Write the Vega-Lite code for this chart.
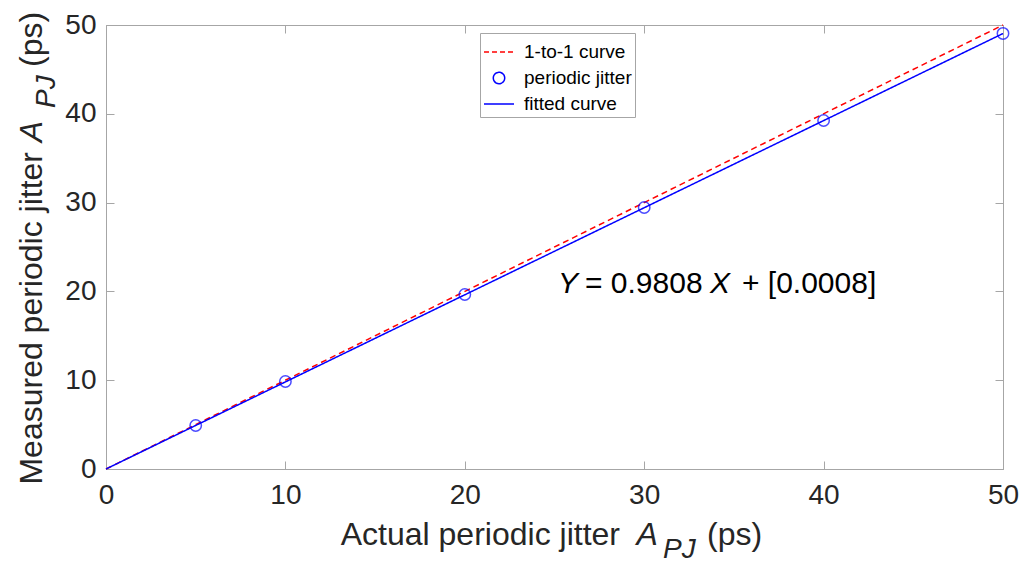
{
  "$schema": "https://vega.github.io/schema/vega-lite/v6.json",
  "width": 897,
  "height": 444,
  "autosize": "none",
  "padding": {"left": 106, "top": 25, "right": 23, "bottom": 98},
  "background": "white",
  "config": {
    "view": {"stroke": "#a6a6a6", "strokeWidth": 1},
    "font": "Liberation Sans",
    "text": {"font": "Liberation Sans", "color": "#000000"}
  },
  "datasets": {
    "lines": [
      {"series": "1-to-1 curve", "x": 0, "y": 0},
      {"series": "1-to-1 curve", "x": 50, "y": 50},
      {"series": "fitted curve", "x": 0, "y": 0.0008},
      {"series": "fitted curve", "x": 50, "y": 49.04}
    ],
    "points": [
      {"series": "periodic jitter", "x": 5, "y": 4.9},
      {"series": "periodic jitter", "x": 10, "y": 9.85},
      {"series": "periodic jitter", "x": 20, "y": 19.65},
      {"series": "periodic jitter", "x": 30, "y": 29.45},
      {"series": "periodic jitter", "x": 40, "y": 39.25},
      {"series": "periodic jitter", "x": 50, "y": 49.05}
    ]
  },
  "layer": [
    {
      "data": {"name": "lines"},
      "mark": {"type": "line", "strokeWidth": 1.5},
      "encoding": {
        "x": {"field": "x", "type": "quantitative",
          "scale": {"domain": [0, 50], "nice": false, "zero": false},
          "axis": {"orient": "bottom", "values": [0, 10, 20, 30, 40, 50], "title": null, "grid": false,
            "labelFontSize": 28, "labelColor": "#262626", "labelFont": "Liberation Sans", "labelPadding": 20,
            "tickSize": -8, "tickColor": "#a6a6a6", "domainColor": "#a6a6a6", "labelFlush": false}},
        "y": {"field": "y", "type": "quantitative",
          "scale": {"domain": [0, 50], "nice": false, "zero": false},
          "axis": {"orient": "left", "values": [0, 10, 20, 30, 40, 50], "title": null, "grid": false,
            "labelFontSize": 28, "labelColor": "#262626", "labelFont": "Liberation Sans", "labelPadding": 18,
            "tickSize": -8, "tickColor": "#a6a6a6", "domainColor": "#a6a6a6", "labelFlush": false}},
        "color": {"field": "series", "type": "nominal",
          "scale": {"domain": ["1-to-1 curve", "periodic jitter", "fitted curve"], "range": ["#ff0000", "#0000ff", "#0000ff"]},
          "legend": {
            "title": null, "orient": "none", "legendX": 374, "legendY": 8,
            "labelFontSize": 19, "labelFont": "Liberation Sans", "labelColor": "#000000", "labelLimit": 300,
            "strokeColor": "#a6a6a6", "fillColor": "white", "padding": 3, "rowPadding": 0,
            "symbolSize": 576, "symbolStrokeWidth": 1.5, "labelOffset": 9,
            "encode": {"symbols": {"update": {
              "shape": {"signal": "datum.value === 'periodic jitter' ? 'circle' : 'stroke'"},
              "size": {"signal": "datum.value === 'periodic jitter' ? 130 : 900"},
              "strokeDash": {"signal": "datum.value === '1-to-1 curve' ? [5,3] : [1,0]"},
              "fill": {"value": "transparent"},
              "strokeWidth": {"value": 1.5}
            }}}
          }},
        "strokeDash": {"field": "series", "type": "nominal",
          "scale": {"domain": ["1-to-1 curve", "fitted curve"], "range": [[6, 4], [1, 0]]}, "legend": null}
      }
    },
    {
      "data": {"name": "points"},
      "mark": {"type": "point", "shape": "circle", "filled": false, "size": 130, "strokeWidth": 1.5},
      "encoding": {
        "x": {"field": "x", "type": "quantitative",
          "scale": {"domain": [0, 50], "nice": false, "zero": false},
          "axis": {"orient": "top", "values": [0, 10, 20, 30, 40, 50], "labels": false, "title": null, "grid": false,
            "tickSize": -8, "tickColor": "#a6a6a6", "domain": false}},
        "y": {"field": "y", "type": "quantitative",
          "scale": {"domain": [0, 50], "nice": false, "zero": false},
          "axis": {"orient": "right", "values": [0, 10, 20, 30, 40, 50], "labels": false, "title": null, "grid": false,
            "tickSize": -8, "tickColor": "#a6a6a6", "domain": false}},
        "color": {"field": "series", "type": "nominal"}
      }
    },
    {
      "data": {"values": [{}]},
      "mark": {"type": "text", "text": "Actual periodic jitter", "fontSize": 32, "align": "right", "baseline": "alphabetic", "color": "#262626"},
      "encoding": {
        "x": {"datum": 28.65, "type": "quantitative", "scale": {"domain": [0, 50]}, "axis": null},
        "y": {"datum": -8.56, "type": "quantitative", "scale": {"domain": [0, 50]}, "axis": null}
      }
    },
    {
      "data": {"values": [{}]},
      "mark": {"type": "text", "text": "A", "fontSize": 32, "fontStyle": "italic", "align": "center", "baseline": "alphabetic", "color": "#262626"},
      "encoding": {
        "x": {"datum": 30.16, "type": "quantitative", "scale": {"domain": [0, 50]}, "axis": null},
        "y": {"datum": -8.56, "type": "quantitative", "scale": {"domain": [0, 50]}, "axis": null}
      }
    },
    {
      "data": {"values": [{}]},
      "mark": {"type": "text", "text": "PJ", "fontSize": 28, "fontStyle": "italic", "align": "left", "baseline": "alphabetic", "color": "#262626"},
      "encoding": {
        "x": {"datum": 31.05, "type": "quantitative", "scale": {"domain": [0, 50]}, "axis": null},
        "y": {"datum": -10.02, "type": "quantitative", "scale": {"domain": [0, 50]}, "axis": null}
      }
    },
    {
      "data": {"values": [{}]},
      "mark": {"type": "text", "text": "(ps)", "fontSize": 32, "align": "left", "baseline": "alphabetic", "color": "#262626"},
      "encoding": {
        "x": {"datum": 33.5, "type": "quantitative", "scale": {"domain": [0, 50]}, "axis": null},
        "y": {"datum": -8.56, "type": "quantitative", "scale": {"domain": [0, 50]}, "axis": null}
      }
    },
    {
      "data": {"values": [{}]},
      "mark": {"type": "text", "text": "Measured periodic jitter", "fontSize": 32, "angle": 270, "align": "right", "baseline": "alphabetic", "color": "#262626"},
      "encoding": {
        "x": {"datum": -3.57, "type": "quantitative", "scale": {"domain": [0, 50]}, "axis": null},
        "y": {"datum": 35.7, "type": "quantitative", "scale": {"domain": [0, 50]}, "axis": null}
      }
    },
    {
      "data": {"values": [{}]},
      "mark": {"type": "text", "text": "A", "fontSize": 32, "fontStyle": "italic", "angle": 270, "align": "center", "baseline": "alphabetic", "color": "#262626"},
      "encoding": {
        "x": {"datum": -3.57, "type": "quantitative", "scale": {"domain": [0, 50]}, "axis": null},
        "y": {"datum": 38.0, "type": "quantitative", "scale": {"domain": [0, 50]}, "axis": null}
      }
    },
    {
      "data": {"values": [{}]},
      "mark": {"type": "text", "text": "PJ", "fontSize": 28, "fontStyle": "italic", "angle": 270, "align": "left", "baseline": "alphabetic", "color": "#262626"},
      "encoding": {
        "x": {"datum": -2.84, "type": "quantitative", "scale": {"domain": [0, 50]}, "axis": null},
        "y": {"datum": 40.65, "type": "quantitative", "scale": {"domain": [0, 50]}, "axis": null}
      }
    },
    {
      "data": {"values": [{}]},
      "mark": {"type": "text", "text": "(ps)", "fontSize": 32, "angle": 270, "align": "left", "baseline": "alphabetic", "color": "#262626"},
      "encoding": {
        "x": {"datum": -3.57, "type": "quantitative", "scale": {"domain": [0, 50]}, "axis": null},
        "y": {"datum": 45.27, "type": "quantitative", "scale": {"domain": [0, 50]}, "axis": null}
      }
    },
    {
      "data": {"values": [{}]},
      "mark": {"type": "text", "text": "Y", "fontSize": 30, "fontStyle": "italic", "align": "left", "baseline": "alphabetic"},
      "encoding": {
        "x": {"datum": 25.2, "type": "quantitative", "scale": {"domain": [0, 50]}, "axis": null},
        "y": {"datum": 19.82, "type": "quantitative", "scale": {"domain": [0, 50]}, "axis": null}
      }
    },
    {
      "data": {"values": [{}]},
      "mark": {"type": "text", "text": "= 0.9808", "fontSize": 30, "align": "left", "baseline": "alphabetic"},
      "encoding": {
        "x": {"datum": 26.7, "type": "quantitative", "scale": {"domain": [0, 50]}, "axis": null},
        "y": {"datum": 19.82, "type": "quantitative", "scale": {"domain": [0, 50]}, "axis": null}
      }
    },
    {
      "data": {"values": [{}]},
      "mark": {"type": "text", "text": "X", "fontSize": 30, "fontStyle": "italic", "align": "left", "baseline": "alphabetic"},
      "encoding": {
        "x": {"datum": 33.67, "type": "quantitative", "scale": {"domain": [0, 50]}, "axis": null},
        "y": {"datum": 19.82, "type": "quantitative", "scale": {"domain": [0, 50]}, "axis": null}
      }
    },
    {
      "data": {"values": [{}]},
      "mark": {"type": "text", "text": "+ [0.0008]", "fontSize": 30, "align": "left", "baseline": "alphabetic"},
      "encoding": {
        "x": {"datum": 35.45, "type": "quantitative", "scale": {"domain": [0, 50]}, "axis": null},
        "y": {"datum": 19.82, "type": "quantitative", "scale": {"domain": [0, 50]}, "axis": null}
      }
    }
  ],
  "resolve": {"axis": {"x": "independent", "y": "independent"}}
}
